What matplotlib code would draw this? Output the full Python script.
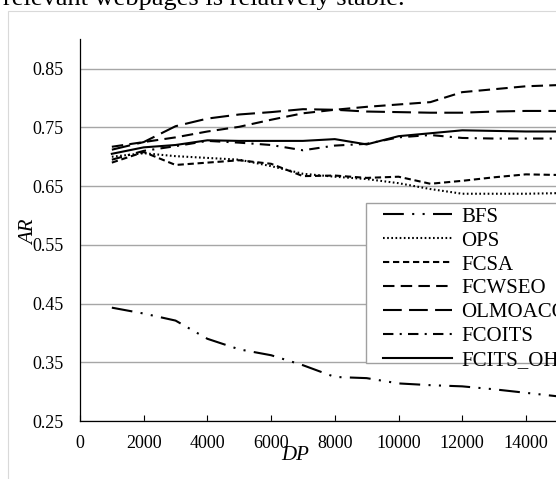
import numpy as np
import matplotlib.pyplot as plt
from matplotlib.patches import Rectangle

plt.rcParams['font.family'] = ['Liberation Serif', 'DejaVu Serif']

# data
dp = [1000, 2000, 3000, 4000, 5000, 6000, 7000, 8000,
      9000, 10000, 11000, 12000, 13000, 14000, 15000]
bfs = [0.443, 0.433, 0.421, 0.390, 0.372, 0.362, 0.345, 0.325,
       0.323, 0.314, 0.311, 0.309, 0.304, 0.298, 0.292]
ops = [0.700, 0.706, 0.701, 0.698, 0.695, 0.684, 0.671, 0.666,
       0.662, 0.655, 0.645, 0.637, 0.637, 0.637, 0.638]
fcsa = [0.690, 0.708, 0.686, 0.690, 0.694, 0.688, 0.667, 0.668,
        0.664, 0.666, 0.654, 0.659, 0.665, 0.670, 0.669]
fcwseo = [0.717, 0.725, 0.733, 0.743, 0.751, 0.763, 0.774, 0.780,
          0.785, 0.789, 0.793, 0.810, 0.815, 0.820, 0.822]
olmoaco = [0.712, 0.725, 0.752, 0.765, 0.772, 0.776, 0.781, 0.780,
           0.777, 0.776, 0.775, 0.775, 0.777, 0.778, 0.778]
fcoits = [0.695, 0.710, 0.718, 0.727, 0.724, 0.720, 0.711, 0.719,
          0.722, 0.733, 0.737, 0.732, 0.731, 0.731, 0.731]
fcits_oh = [0.705, 0.716, 0.720, 0.728, 0.727, 0.727, 0.727, 0.730,
            0.721, 0.735, 0.740, 0.745, 0.744, 0.743, 0.743]

names = ['BFS', 'OPS', 'FCSA', 'FCWSEO', 'OLMOACO', 'FCOITS', 'FCITS_OH']
series = [bfs, ops, fcsa, fcwseo, olmoaco, fcoits, fcits_oh]
styles = [(0, (10, 4, 1, 4, 1, 4)), (0, (0.8, 1.2)), (0, (3, 1.8)),
          (0, (5.5, 3)), (0, (9, 3.5)), (0, (5, 3, 1, 3)), '-']

W, H = 556, 479
fig = plt.figure(figsize=(W / 100, H / 100), dpi=100)

# frame of the embedded chart and the cut-off text line above it
fig.patches.append(Rectangle((7.5 / W, -0.1), 2, 1 - 11 / H + 0.1,
                             transform=fig.transFigure, fill=False,
                             edgecolor='#d9d9d9', lw=0.8))
fig.text(405 / W, 1 - 5 / H, 'relevant webpages is relatively stable.',
         ha='right', va='baseline', fontsize=19)

ax = fig.add_axes([80 / W, (H - 421) / H, 16000 * 0.03185 / W, (421 - 39.3) / H])
for y, name, ls in zip(series, names, styles):
    ax.plot(dp, y, color='black', lw=1.5, linestyle=ls, label=name)

ax.set_xlim(0, 16000)
ax.set_ylim(0.25, 0.90)
ax.set_xticks(np.arange(0, 16001, 2000))
ax.set_yticks([0.25, 0.35, 0.45, 0.55, 0.65, 0.75, 0.85])
ax.set_yticklabels(['0.25', '0.35', '0.45', '0.55', '0.65', '0.75', '0.85'])
ax.yaxis.grid(True, color='#a6a6a6', lw=1.0)
ax.set_axisbelow(True)
ax.tick_params(axis='x', direction='in', length=4, width=0.8, pad=10, labelsize=13)
ax.tick_params(axis='y', length=0, pad=12, labelsize=13)
for s in ['top', 'right']:
    ax.spines[s].set_visible(False)
for s in ['left', 'bottom']:
    ax.spines[s].set_linewidth(0.9)

fig.text(295 / W, 1 - 456 / H, 'DP', style='italic', fontsize=15, ha='center', va='center')
fig.text(30 / W, 1 - 232 / H, 'AR', style='italic', fontsize=15, rotation=90,
         ha='center', va='center')

# legend box drawn by hand, entries without frame
fig.patches.append(Rectangle((366 / W, 1 - 363 / H), 300 / W, 160 / H,
                             transform=fig.transFigure, fill=True, facecolor='white',
                             edgecolor='#a0a0a0', lw=1.0, zorder=3))
leg = fig.legend(loc='upper left', bbox_to_anchor=(383 / W, 1 - 207 / H),
                 frameon=False, fontsize=15, handlelength=3.3, handletextpad=0.45,
                 labelspacing=0.21, borderpad=0, borderaxespad=0)
leg.set_zorder(4)

fig.savefig('out.png', dpi=100)
